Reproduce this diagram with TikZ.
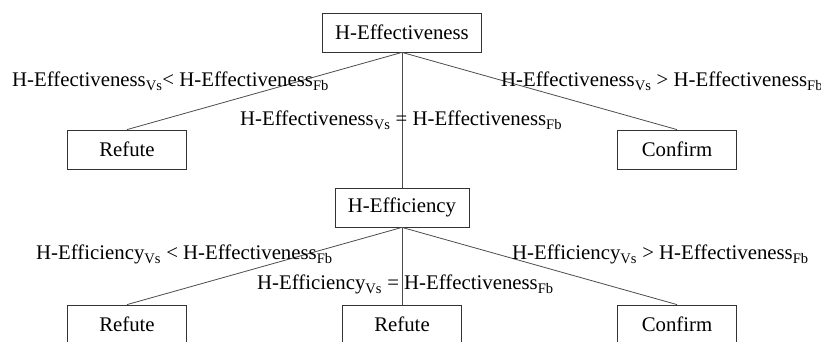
\documentclass[tikz,border=0pt]{standalone}
\usepackage{fontspec}
\setmainfont{Liberation Serif}
\tikzset{
    decide/.style={rectangle,draw=black!80,line width=0.8pt, minimum height=39pt, inner xsep=13pt, font=\fontsize{20.8pt}{24pt}\selectfont},
    leaf/.style={rectangle,draw=black!80,line width=0.8pt, minimum height=39pt, minimum width=119pt, font=\fontsize{20.8pt}{24pt}\selectfont},
    cond/.style={inner sep=0, font=\fontsize{20.8pt}{24pt}\selectfont}
}

\begin{document}
\begin{tikzpicture}[x=1pt,y=1pt,level distance=117pt,sibling distance=275pt,
    edge from parent/.style={draw=black!70,line width=0.8pt},
    edge from parent path={(\tikzparentnode.south) -- (\tikzchildnode.north)}]
    \useasboundingbox (0,0) rectangle (821,342);
    \node[decide] (eff) at (402,309.5) {H-Effectiveness}
        child {node[leaf] (refute1) {Refute}}
        child[level distance=175pt] {node[decide] (effi) {H-Efficiency}
            child[level distance=117pt] {node[leaf] (refute2) {Refute}}
            child[level distance=117pt] {node[leaf] (refute3) {Refute}}
            child[level distance=117pt] {node[leaf] (confirm2) {Confirm}}
        }
        child {node[leaf] (confirm1) {Confirm}};
    % conditions on the branches
    \node[cond, anchor=base west] (effless) at (12,255) {H-Effectiveness\textsubscript{Vs}< H-Effectiveness\textsubscript{Fb}};
    \node[cond, anchor=base west] (effeq) at (240,216) {H-Effectiveness\textsubscript{Vs} = H-Effectiveness\textsubscript{Fb}};
    \node[cond, anchor=base west] (effmore) at (501,255) {H-Effectiveness\textsubscript{Vs} > H-Effectiveness\textsubscript{Fb}};
    \node[cond, anchor=base west] (effiless) at (36,82) {H-Efficiency\textsubscript{Vs} < H-Effectiveness\textsubscript{Fb}};
    \node[cond, anchor=base west] (effieq) at (257,52) {H-Efficiency\textsubscript{Vs} = H-Effectiveness\textsubscript{Fb}};
    \node[cond, anchor=base west] (effimore) at (512,82) {H-Efficiency\textsubscript{Vs} > H-Effectiveness\textsubscript{Fb}};
\end{tikzpicture}
\end{document}
